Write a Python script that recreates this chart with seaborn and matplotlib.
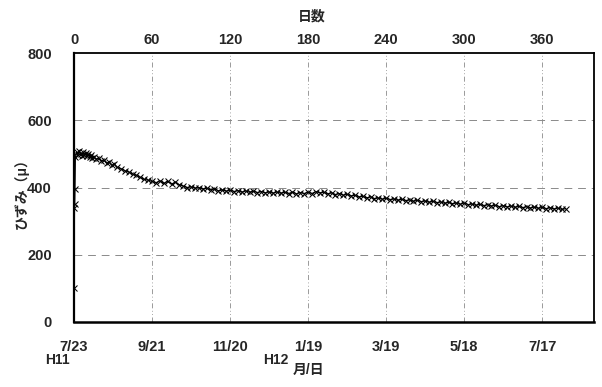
import matplotlib
matplotlib.use("Agg")
import matplotlib.pyplot as plt
import seaborn as sns
import pandas as pd

days = [0, 0.3, 0.5, 0.7, 1, 2, 3, 4, 5, 6, 7, 8, 9, 10, 11, 12, 13, 14, 15,
        17, 19, 21, 23, 25, 27, 29, 31, 33, 36, 39, 42, 45, 48, 51, 54, 57, 60,
        63, 66, 69, 72, 75, 78, 81, 84, 87, 90, 93, 96, 99, 102, 105, 108, 111,
        114, 117, 120, 123, 126, 129, 132, 135, 138, 141, 144, 147, 150, 153,
        156, 159, 162, 165, 168, 171, 174, 177, 180, 183, 186, 189, 192, 195,
        198, 201, 204, 207, 210, 213, 216, 219, 222, 225, 228, 231, 234, 237,
        240, 243, 246, 249, 252, 255, 258, 261, 264, 267, 270, 273, 276, 279,
        282, 285, 288, 291, 294, 297, 300, 303, 306, 309, 312, 315, 318, 321,
        324, 327, 330, 333, 336, 339, 342, 345, 348, 351, 354, 357, 360, 363,
        366, 369, 372, 375, 378]
strain = [100, 340, 350, 395, 490, 505, 498, 508, 500, 495, 505, 498, 502, 494,
          500, 490, 497, 488, 492, 484, 488, 478, 482, 472, 476, 466, 470, 460,
          456, 450, 446, 440, 436, 430, 424, 422, 418, 414, 420, 412, 418, 410,
          416, 408, 404, 400, 402, 398, 400, 395, 398, 393, 396, 390, 393, 389,
          392, 388, 391, 386, 390, 386, 389, 385, 388, 384, 387, 383, 387, 383,
          386, 382, 386, 381, 385, 382, 386, 382, 388, 384, 386, 381, 384, 379,
          382, 377, 380, 375, 377, 372, 374, 369, 372, 367, 369, 365, 368, 364,
          366, 362, 365, 361, 363, 359, 362, 358, 360, 356, 359, 355, 357, 353,
          356, 352, 354, 350, 354, 349, 351, 347, 350, 346, 349, 345, 347, 343,
          346, 342, 345, 341, 344, 340, 343, 339, 342, 338, 341, 337, 340, 336,
          339, 335, 337]

day_ticks = [0, 60, 120, 180, 240, 300, 360]
date_labels = ["7/23", "9/21", "11/20", "1/19", "3/19", "5/18", "7/17"]
y_ticks = [0, 200, 400, 600, 800]

sns.set_theme(style="white")
plt.rcParams["font.family"] = ["Liberation Sans", "Noto Sans CJK JP", "DejaVu Sans"]

df = pd.DataFrame({"day": days, "strain": strain})

fig = plt.figure(figsize=(6.02, 3.87), dpi=100)
ax = fig.add_axes([0.123, 0.168, 0.864, 0.695])
sns.lineplot(data=df, x="day", y="strain", ax=ax, color="black", lw=0.9,
             marker="x", markersize=5, markeredgewidth=0.75, markeredgecolor="black")

ax.set_xlim(0, 400)
ax.set_ylim(0, 800)
ax.set_yticks(y_ticks)
ax.set_yticklabels([str(v) for v in y_ticks], fontsize=10.5, fontweight="bold")
ax.set_xticks(day_ticks)
ax.set_xticklabels(date_labels, fontsize=10.5, fontweight="bold")
ax.tick_params(axis="x", length=0, pad=13)
ax.tick_params(axis="y", length=0, pad=16)
ax.set_xlabel("")
ax.set_ylabel("")
fig.text(21 / 602, 1 - 190 / 387, "ひずみ（μ）", fontsize=10, fontweight="bold",
         rotation=90, ha="center", va="center")

for y in [200, 400, 600]:
    ax.axhline(y, color="#8a8a8a", lw=0.7, ls=(0, (8, 6)), zorder=0)
for x in day_ticks[1:]:
    ax.axvline(x, color="#8a8a8a", lw=0.6, ls=(0, (6, 3, 1, 3, 1, 3)), zorder=0)

for s in ax.spines.values():
    s.set_color("black")
    s.set_linewidth(1.3)
ax.spines["bottom"].set_linewidth(1.8)
ax.spines["left"].set_linewidth(1.6)

top = ax.twiny()
top.set_xlim(ax.get_xlim())
top.set_xticks(day_ticks)
top.set_xticklabels([str(d) for d in day_ticks], fontsize=10.5, fontweight="bold")
top.tick_params(length=0, pad=4)
top.set_xlabel("")
top.grid(False)
for s in top.spines.values():
    s.set_visible(False)

fig.text(312 / 602, 1 - 17 / 387, "日数", fontsize=10, fontweight="bold",
         ha="center", va="center")
fig.text(45 / 602, 1 - 360 / 387, "H11", fontsize=10, fontweight="bold",
         ha="left", va="center")
fig.text(263 / 602, 1 - 360 / 387, "H12", fontsize=10, fontweight="bold",
         ha="left", va="center")
fig.text(293 / 602, 1 - 370 / 387, "月/日", fontsize=10, fontweight="bold",
         ha="left", va="center")

fig.savefig("out.png", dpi=100)
